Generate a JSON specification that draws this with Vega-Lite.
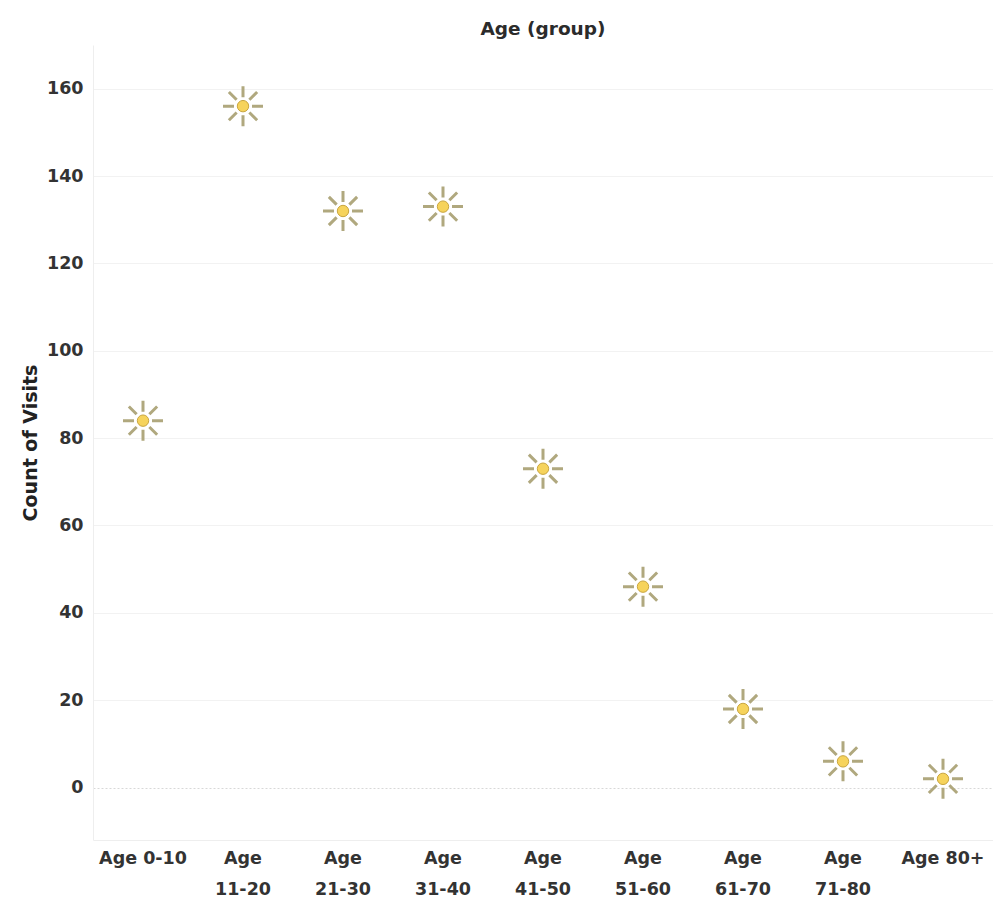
{
  "$schema": "https://vega.github.io/schema/vega-lite/v6.json",
  "width": 900,
  "height": 795,
  "autosize": {"type": "none"},
  "padding": {"left": 93, "top": 45, "right": 0, "bottom": 61},
  "background": "white",
  "config": {"view": {"stroke": null}},
  "title": {"text": "Age (group)", "font": "DejaVu Sans", "fontSize": 18.5, "fontWeight": "bold", "color": "#2b2b2b", "offset": 7},
  "data": {
    "values": [
      {"age": "Age 0-10", "visits": 84},
      {"age": "Age 11-20", "visits": 156},
      {"age": "Age 21-30", "visits": 132},
      {"age": "Age 31-40", "visits": 133},
      {"age": "Age 41-50", "visits": 73},
      {"age": "Age 51-60", "visits": 46},
      {"age": "Age 61-70", "visits": 18},
      {"age": "Age 71-80", "visits": 6},
      {"age": "Age 80+", "visits": 2}
    ]
  },
  "encoding": {
    "x": {
      "field": "age",
      "type": "nominal",
      "sort": null,
      "scale": {"type": "band", "paddingInner": 0, "paddingOuter": 0},
      "axis": {
        "title": null,
        "labelAngle": 0,
        "labelFont": "DejaVu Sans",
        "labelFontSize": 17.5,
        "labelFontWeight": "bold",
        "labelColor": "#333333",
        "labelPadding": 9,
        "labelLineHeight": 31,
        "labelLimit": 200,
        "ticks": false,
        "grid": false,
        "domainColor": "#eeeeee",
        "labelExpr": "datum.value == 'Age 0-10' || datum.value == 'Age 80+' ? datum.value : split(datum.value, ' ')"
      }
    },
    "y": {
      "field": "visits",
      "type": "quantitative",
      "scale": {"domain": [-12, 170], "nice": false, "zero": false},
      "axis": {
        "title": "Count of Visits",
        "titleFont": "DejaVu Sans",
        "titleFontSize": 19,
        "titleFontWeight": "bold",
        "titleColor": "#222222",
        "titlePadding": 6,
        "values": [0, 20, 40, 60, 80, 100, 120, 140, 160],
        "labelFont": "DejaVu Sans",
        "labelFontSize": 17.5,
        "labelFontWeight": "bold",
        "labelColor": "#333333",
        "labelPadding": 10,
        "ticks": false,
        "domainColor": "#eeeeee",
        "gridColor": {"condition": {"test": "datum.value === 0", "value": "#d8d8d8"}, "value": "#f2f2f2"},
        "gridDash": {"condition": {"test": "datum.value === 0", "value": [2, 2]}, "value": []}
      }
    }
  },
  "layer": [
    {
      "mark": {
        "type": "point",
        "shape": "M0,-1L0,-0.45M0,0.45L0,1M-1,0L-0.45,0M0.45,0L1,0M0.707,0.707L0.318,0.318M-0.707,-0.707L-0.318,-0.318M0.707,-0.707L0.318,-0.318M-0.707,0.707L-0.318,0.318",
        "filled": false,
        "stroke": "#b0a87e",
        "strokeWidth": 3,
        "size": 1600,
        "opacity": 1
      }
    },
    {
      "mark": {
        "type": "point",
        "shape": "circle",
        "filled": true,
        "fill": "#f6d35c",
        "stroke": "#c9a640",
        "strokeWidth": 1,
        "size": 130,
        "opacity": 1
      }
    }
  ]
}
